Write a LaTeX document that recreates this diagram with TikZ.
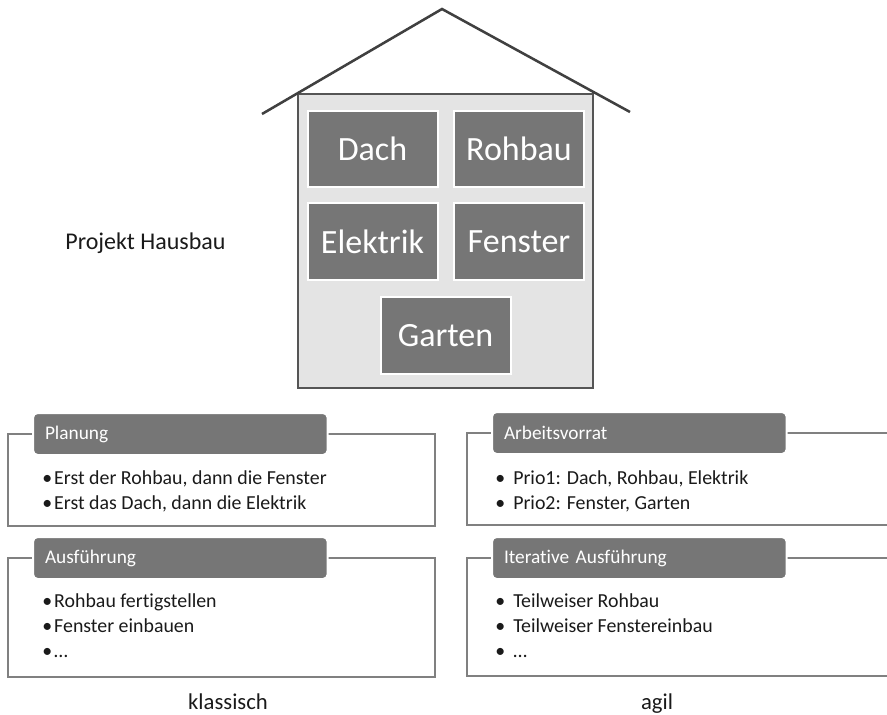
\documentclass[tikz,border=0pt]{standalone}
\usepackage{fontspec}
\setmainfont{Carlito}[Ligatures=NoCommon]
\definecolor{boxgray}{HTML}{767676}
\definecolor{wallfill}{HTML}{E4E4E4}
\definecolor{walledge}{HTML}{555555}
\definecolor{rooftone}{HTML}{404040}
\definecolor{frameline}{HTML}{808080}
\definecolor{inktone}{HTML}{1A1A1A}
\begin{document}
\begin{tikzpicture}[x=.75pt,y=-.75pt,every node/.style={text=inktone},
  part/.style={fill=boxgray,draw=white,line width=1.5pt,text=white,inner sep=0pt,minimum width=97.5pt,minimum height=57.5pt,font=\fontsize{25.5}{30}\selectfont},
  header/.style={fill=boxgray,draw=white,line width=1.5pt,rounded corners=3.5pt,text=white,anchor=west,align=left,text width=203pt,inner xsep=9pt,inner ysep=0pt,minimum height=31.5pt,font=\fontsize{14.5}{17}\selectfont},
  panelframe/.style={draw=frameline,line width=1.6pt},
  bulletline/.style={anchor=base west,inner sep=0pt,font=\fontsize{14.9}{17}\selectfont},
  caption/.style={anchor=base,inner sep=0pt,font=\fontsize{17}{20}\selectfont}]
\useasboundingbox (0,0) rectangle (887,714);
% House: wall with the five work packages, roof on top.
\draw[fill=wallfill,draw=walledge,line width=2pt] (298,94) rectangle (593,388);
\draw[rooftone,line width=1.9pt] (262,114) -- (442,9) -- (630,112);
\foreach \nm/\lbl/\cx/\cy in {dach/Dach/372.5/149,rohbau/Rohbau/519/149,elektrik/Elektrik/372.5/241.5,fenster/Fenster/519/241.5,garten/Garten/445.5/335.5}{
  \node[part] (\nm) at (\cx,\cy) {\lbl};
}
\node[caption,font=\fontsize{18}{21}\selectfont] (projekt) at (145.5,249) {Projekt Hausbau};
% Four panels: classic plan on the left, agile backlog on the right.
\foreach \fx/\fr/\ft/\fb/\hx/\nm/\title in {8/435/434/526/32/planung/Planung,8/435/558/677/32/ausfuehrung/Ausführung,467/890/433/525/491/vorrat/Arbeitsvorrat,467/890/558/676/491/iterativ/Iterative Ausführung}{
  \draw[panelframe] (\fx,\ft) rectangle (\fr,\fb);
  \node[header] (\nm) at (\hx,\ft) {\title};
}
\foreach \nm/\x/\y/\gap/\txt in {plana/42/484/9pt/{Erst der Rohbau, dann die Fenster},planb/42/509/9pt/{Erst das Dach, dann die Elektrik},
  ausfa/42/607/9pt/Rohbau fertigstellen,ausfb/42/632/9pt/Fenster einbauen,ausfc/42/657/9pt/…,
  vorrata/495/484/13.5pt/{Prio1: Dach, Rohbau, Elektrik},vorratb/495/509/13.5pt/{Prio2: Fenster, Garten},
  itera/495/607/13.5pt/Teilweiser Rohbau,iterb/495/632/13.5pt/Teilweiser Fenstereinbau,iterc/495/657/13.5pt/…}{
  \node[bulletline] (\nm) at (\x,\y) {\makebox[\gap][l]{•}\txt};
}
\node[caption] (klassisch) at (228,709) {klassisch};
\node[caption] (agil) at (657,709) {agil};
\end{tikzpicture}
\end{document}
